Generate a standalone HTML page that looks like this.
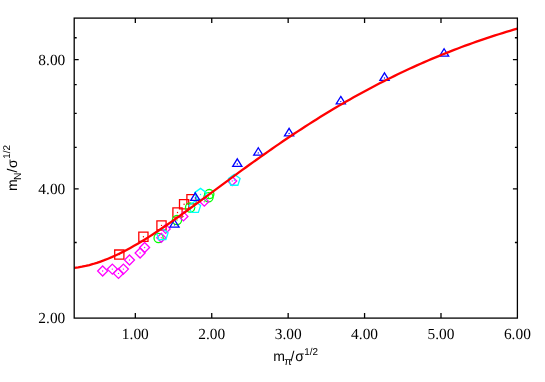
<!DOCTYPE html>
<html><head><meta charset="utf-8"><title>plot</title>
<style>html,body{margin:0;padding:0;background:#fff;}body{width:545px;height:382px;position:relative;overflow:hidden;font-family:"Liberation Sans",sans-serif;}</style>
</head><body>
<svg width="545" height="382" viewBox="0 0 545 382" style="position:absolute;left:0;top:0;will-change:transform;opacity:0.999">
<g fill="none" stroke="#ff0000" stroke-width="1.3" stroke-linejoin="miter">
<path d="M114.70 250.00H123.90V259.20H114.70Z"/>
<circle cx="119.30" cy="254.60" r="0.7" fill="#ff0000" stroke="none"/>
<path d="M138.80 232.10H148.00V241.30H138.80Z"/>
<circle cx="143.40" cy="236.70" r="0.7" fill="#ff0000" stroke="none"/>
<path d="M156.90 220.80H166.10V230.00H156.90Z"/>
<circle cx="161.50" cy="225.40" r="0.7" fill="#ff0000" stroke="none"/>
<path d="M172.90 207.90H182.10V217.10H172.90Z"/>
<circle cx="177.50" cy="212.50" r="0.7" fill="#ff0000" stroke="none"/>
<path d="M179.50 199.60H188.70V208.80H179.50Z"/>
<circle cx="184.10" cy="204.20" r="0.7" fill="#ff0000" stroke="none"/>
<path d="M186.90 194.70H196.10V203.90H186.90Z"/>
<circle cx="191.50" cy="199.30" r="0.7" fill="#ff0000" stroke="none"/>
</g>
<g fill="none" stroke="#00ff00" stroke-width="1.3" stroke-linejoin="miter">
<circle cx="158.60" cy="238.00" r="4.60"/>
<circle cx="158.60" cy="238.00" r="0.7" fill="#00ff00" stroke="none"/>
<circle cx="177.00" cy="220.00" r="4.60"/>
<circle cx="177.00" cy="220.00" r="0.7" fill="#00ff00" stroke="none"/>
<circle cx="190.10" cy="207.50" r="4.60"/>
<circle cx="190.10" cy="207.50" r="0.7" fill="#00ff00" stroke="none"/>
<circle cx="209.30" cy="194.10" r="4.60"/>
<circle cx="209.30" cy="194.10" r="0.7" fill="#00ff00" stroke="none"/>
<circle cx="208.50" cy="197.30" r="4.60"/>
<circle cx="208.50" cy="197.30" r="0.7" fill="#00ff00" stroke="none"/>
</g>
<g fill="none" stroke="#ff00ff" stroke-width="1.3" stroke-linejoin="miter">
<path d="M102.66 266.00L107.66 271.00L102.66 276.00L97.66 271.00Z"/>
<circle cx="102.66" cy="271.00" r="0.7" fill="#ff00ff" stroke="none"/>
<path d="M112.35 264.10L117.35 269.10L112.35 274.10L107.35 269.10Z"/>
<circle cx="112.35" cy="269.10" r="0.7" fill="#ff00ff" stroke="none"/>
<path d="M118.50 268.40L123.50 273.40L118.50 278.40L113.50 273.40Z"/>
<circle cx="118.50" cy="273.40" r="0.7" fill="#ff00ff" stroke="none"/>
<path d="M123.40 264.10L128.40 269.10L123.40 274.10L118.40 269.10Z"/>
<circle cx="123.40" cy="269.10" r="0.7" fill="#ff00ff" stroke="none"/>
<path d="M129.50 255.00L134.50 260.00L129.50 265.00L124.50 260.00Z"/>
<circle cx="129.50" cy="260.00" r="0.7" fill="#ff00ff" stroke="none"/>
<path d="M140.10 248.00L145.10 253.00L140.10 258.00L135.10 253.00Z"/>
<circle cx="140.10" cy="253.00" r="0.7" fill="#ff00ff" stroke="none"/>
<path d="M144.60 242.50L149.60 247.50L144.60 252.50L139.60 247.50Z"/>
<circle cx="144.60" cy="247.50" r="0.7" fill="#ff00ff" stroke="none"/>
</g>
<g fill="none" stroke="#ff00ff" stroke-width="1.3" stroke-linejoin="miter">
<path d="M161.30 233.30L165.80 237.80L161.30 242.30L156.80 237.80Z"/>
<circle cx="161.30" cy="237.80" r="0.7" fill="#ff00ff" stroke="none"/>
<path d="M165.70 224.40L170.20 228.90L165.70 233.40L161.20 228.90Z"/>
<circle cx="165.70" cy="228.90" r="0.7" fill="#ff00ff" stroke="none"/>
<path d="M183.40 211.90L187.90 216.40L183.40 220.90L178.90 216.40Z"/>
<circle cx="183.40" cy="216.40" r="0.7" fill="#ff00ff" stroke="none"/>
<path d="M204.30 197.20L208.80 201.70L204.30 206.20L199.80 201.70Z"/>
<circle cx="204.30" cy="201.70" r="0.7" fill="#ff00ff" stroke="none"/>
<path d="M232.20 176.50L236.70 181.00L232.20 185.50L227.70 181.00Z"/>
<circle cx="232.20" cy="181.00" r="0.7" fill="#ff00ff" stroke="none"/>
</g>
<g fill="none" stroke="#00ffff" stroke-width="1.3" stroke-linejoin="miter">
<path d="M162.30 228.50L168.10 232.71L165.89 239.54L158.71 239.54L156.50 232.71Z"/>
<circle cx="162.30" cy="234.60" r="0.7" fill="#00ffff" stroke="none"/>
<path d="M194.80 201.30L200.60 205.51L198.39 212.34L191.21 212.34L189.00 205.51Z"/>
<circle cx="194.80" cy="207.40" r="0.7" fill="#00ffff" stroke="none"/>
<path d="M200.50 188.40L206.30 192.61L204.09 199.44L196.91 199.44L194.70 192.61Z"/>
<circle cx="200.50" cy="194.50" r="0.7" fill="#00ffff" stroke="none"/>
<path d="M234.30 174.20L240.10 178.41L237.89 185.24L230.71 185.24L228.50 178.41Z"/>
<circle cx="234.30" cy="180.30" r="0.7" fill="#00ffff" stroke="none"/>
</g>
<g fill="none" stroke="#0000ff" stroke-width="1.3" stroke-linejoin="miter">
<path d="M174.50 219.75L179.10 227.20L169.90 227.20Z"/>
<circle cx="174.50" cy="224.90" r="0.7" fill="#0000ff" stroke="none"/>
<path d="M195.30 192.85L199.90 200.30L190.70 200.30Z"/>
<circle cx="195.30" cy="198.00" r="0.7" fill="#0000ff" stroke="none"/>
<path d="M237.30 158.85L241.90 166.30L232.70 166.30Z"/>
<circle cx="237.30" cy="164.00" r="0.7" fill="#0000ff" stroke="none"/>
<path d="M258.30 147.75L262.90 155.20L253.70 155.20Z"/>
<circle cx="258.30" cy="152.90" r="0.7" fill="#0000ff" stroke="none"/>
<path d="M289.10 128.35L293.70 135.80L284.50 135.80Z"/>
<circle cx="289.10" cy="133.50" r="0.7" fill="#0000ff" stroke="none"/>
<path d="M340.80 96.45L345.40 103.90L336.20 103.90Z"/>
<circle cx="340.80" cy="101.60" r="0.7" fill="#0000ff" stroke="none"/>
<path d="M384.50 72.85L389.10 80.30L379.90 80.30Z"/>
<circle cx="384.50" cy="78.00" r="0.7" fill="#0000ff" stroke="none"/>
<path d="M444.10 48.75L448.70 56.20L439.50 56.20Z"/>
<circle cx="444.10" cy="53.90" r="0.7" fill="#0000ff" stroke="none"/>
</g>
<path d="M74.50 267.87L78.22 267.36L81.94 266.72L85.67 265.94L89.39 265.02L93.11 263.98L96.83 262.82L100.55 261.54L104.27 260.19L108.00 258.72L111.72 257.16L115.44 255.50L119.16 253.74L122.88 251.89L126.60 249.96L130.33 247.95L134.05 245.87L137.77 243.71L141.49 241.48L145.21 239.19L148.93 236.85L152.66 234.45L156.38 232.01L160.10 229.53L163.82 227.01L167.54 224.45L171.27 221.86L174.99 219.24L178.71 216.60L182.43 213.93L186.15 211.24L189.87 208.53L193.60 205.81L197.32 203.08L201.04 200.34L204.76 197.60L208.48 194.85L212.20 192.10L215.93 189.35L219.65 186.61L223.37 183.85L227.09 181.10L230.81 178.36L234.54 175.62L238.26 172.90L241.98 170.18L245.70 167.48L249.42 164.79L253.14 162.12L256.87 159.46L260.59 156.82L264.31 154.19L268.03 151.59L271.75 149.00L275.47 146.42L279.20 143.86L282.92 141.31L286.64 138.79L290.36 136.29L294.08 133.81L297.80 131.36L301.53 128.92L305.25 126.51L308.97 124.12L312.69 121.76L316.41 119.42L320.14 117.10L323.86 114.81L327.58 112.54L331.30 110.30L335.02 108.08L338.74 105.88L342.47 103.71L346.19 101.56L349.91 99.44L353.63 97.34L357.35 95.27L361.07 93.22L364.80 91.20L368.52 89.20L372.24 87.22L375.96 85.27L379.68 83.35L383.41 81.45L387.13 79.57L390.85 77.71L394.57 75.88L398.29 74.08L402.01 72.30L405.74 70.54L409.46 68.80L413.18 67.10L416.90 65.42L420.62 63.76L424.34 62.13L428.07 60.52L431.79 58.93L435.51 57.36L439.23 55.82L442.95 54.30L446.67 52.81L450.40 51.33L454.12 49.88L457.84 48.45L461.56 47.04L465.28 45.66L469.01 44.30L472.73 42.96L476.45 41.65L480.17 40.36L483.89 39.09L487.61 37.84L491.34 36.62L495.06 35.41L498.78 34.23L502.50 33.07L506.22 31.92L509.94 30.80L513.67 29.70L517.39 28.62" fill="none" stroke="#ff0000" stroke-width="2.3" stroke-linejoin="round"/>
<g stroke="#000" stroke-width="1.3" fill="none">
<rect x="74.2" y="18.1" width="443.2" height="300.0"/>
<path d="M135.33 318.1V313.1M135.33 18.1V23.1" />
<path d="M211.74 318.1V313.1M211.74 18.1V23.1" />
<path d="M288.16 318.1V313.1M288.16 18.1V23.1" />
<path d="M364.57 318.1V313.1M364.57 18.1V23.1" />
<path d="M440.99 318.1V313.1M440.99 18.1V23.1" />
<path d="M74.2 188.90H78.7M517.4 188.90H512.9" />
<path d="M74.2 59.69H78.7M517.4 59.69H512.9" />
<path d="M74.2 242.52H76.7M517.4 242.52H514.9" />
<path d="M74.2 147.30H76.7M517.4 147.30H514.9" />
<path d="M74.2 113.32H76.7M517.4 113.32H514.9" />
<path d="M74.2 84.58H76.7M517.4 84.58H514.9" />
<path d="M74.2 37.74H76.7M517.4 37.74H514.9" />
</g>
<g font-family="'Liberation Serif', serif" font-size="15.4px" fill="#000" text-rendering="geometricPrecision">
<text x="135.33" y="338.6" text-anchor="middle">1.00</text>
<text x="211.74" y="338.6" text-anchor="middle">2.00</text>
<text x="288.16" y="338.6" text-anchor="middle">3.00</text>
<text x="364.57" y="338.6" text-anchor="middle">4.00</text>
<text x="440.99" y="338.6" text-anchor="middle">5.00</text>
<text x="517.40" y="338.6" text-anchor="middle">6.00</text>
<text x="65.3" y="323.10" text-anchor="end">2.00</text>
<text x="65.3" y="193.90" text-anchor="end">4.00</text>
<text x="65.3" y="64.69" text-anchor="end">8.00</text>
</g>
<g font-family="'Liberation Sans', sans-serif" fill="#000" text-rendering="geometricPrecision">
<text x="273.2" y="360.9" font-size="14px">m</text>
<text x="284.2" y="364.8" font-size="11px">π</text>
<text x="290.6" y="360.9" font-size="14px">/</text>
<text x="295.2" y="360.9" font-size="14px">σ</text>
<text x="304.3" y="354.8" font-size="9.9px">1/2</text>
<g transform="translate(16.7 190.9) rotate(-90)">
<text x="0" y="0" font-size="14px">m</text>
<text x="10.9" y="4.5" font-size="10.3px">N</text>
<text x="18.4" y="0" font-size="14px">/</text>
<text x="23.0" y="0" font-size="14px">σ</text>
<text x="32.2" y="-7.0" font-size="9.9px">1/2</text>
</g>
</g>
</svg>
</body></html>
